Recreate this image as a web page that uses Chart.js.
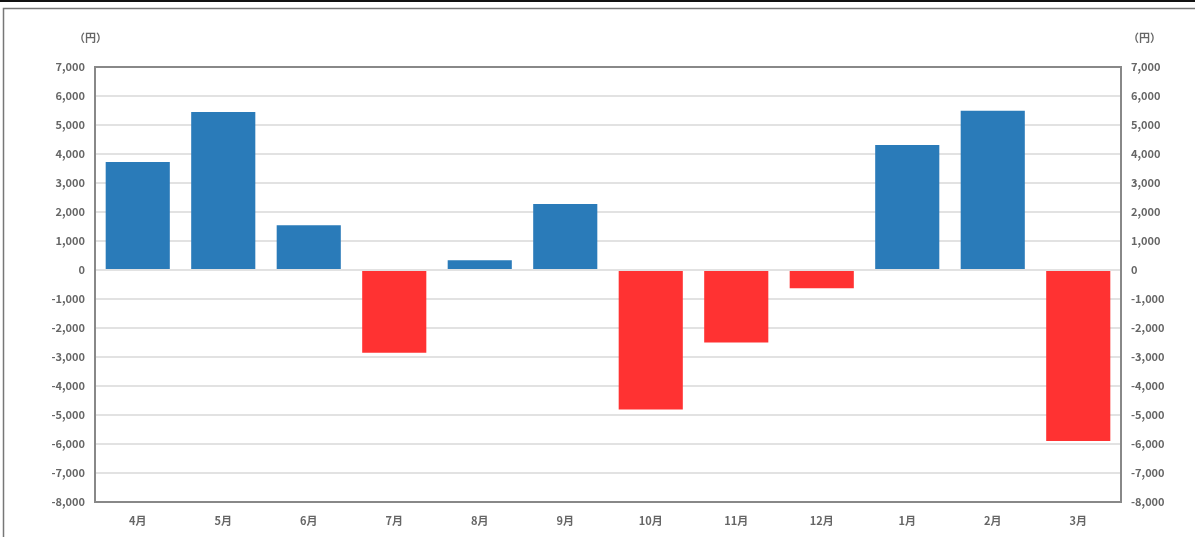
<!DOCTYPE html>
<html>
<head>
<meta charset="utf-8">
<script src="https://cdn.jsdelivr.net/npm/chart.js@4.4.1/dist/chart.umd.min.js"></script>
<style>
html,body{margin:0;padding:0;background:#fff;}
#wrap{position:relative;width:1195px;height:537px;}
</style>
</head>
<body>
<div id="wrap"><canvas id="c" width="1195" height="537"></canvas></div>
<script>
const categories = ["4月","5月","6月","7月","8月","9月","10月","11月","12月","1月","2月","3月"];
const values = [3720, 5450, 1540, -2850, 340, 2280, -4810, -2500, -630, 4310, 5490, -5900];
const yMin = -8000;
const yMax = 7000;
const yStep = 1000;
const unitLabel = "（円）";

const BLUE = "#2a7bb9";
const RED = "#ff3232";
const TICK_COLOR = "#666";
const FONT = "'Noto Sans CJK JP', 'DejaVu Sans', sans-serif";

function fmt(v){ return v.toLocaleString('en-US'); }

const framePlugin = {
  id: 'frame',
  beforeDraw(chart){
    const ctx = chart.ctx;
    ctx.save();
    ctx.fillStyle = '#fff';
    ctx.fillRect(0,0,chart.width,chart.height);
    ctx.fillStyle = '#111';
    ctx.fillRect(0,0,chart.width,2);
    ctx.strokeStyle = '#777';
    ctx.lineWidth = 1.5;
    ctx.beginPath();
    ctx.moveTo(3.5, chart.height);
    ctx.lineTo(3.5, 8.5);
    ctx.lineTo(chart.width, 8.5);
    ctx.stroke();
    ctx.restore();
  },
  afterDraw(chart){
    const ctx = chart.ctx;
    const a = chart.chartArea;
    ctx.save();
    ctx.strokeStyle = '#888';
    ctx.lineWidth = 2;
    ctx.beginPath();
    ctx.moveTo(a.left, a.top);
    ctx.lineTo(a.right, a.top);
    ctx.stroke();
    ctx.fillStyle = TICK_COLOR;
    ctx.font = "bold 11px " + FONT;
    ctx.textBaseline = 'middle';
    ctx.textAlign = 'left';
    ctx.fillText(unitLabel, 74, 38);
    ctx.fillText(unitLabel, 1128, 38);
    ctx.restore();
  }
};

new Chart(document.getElementById('c'), {
  type: 'bar',
  data: {
    labels: categories,
    datasets: [{
      data: values,
      backgroundColor: values.map(v => v >= 0 ? BLUE : RED),
      borderWidth: 0,
      barPercentage: 0.75,
      categoryPercentage: 1.0
    }]
  },
  options: {
    responsive: false,
    animation: false,
    devicePixelRatio: 1,
    layout: { padding: { top: 67, left: 0, right: 0, bottom: 0 } },
    plugins: { legend: { display: false }, tooltip: { enabled: false } },
    scales: {
      x: {
        grid: { display: false, drawTicks: false },
        border: { color: '#888', width: 2 },
        ticks: { color: TICK_COLOR, font: { size: 11, weight: 'bold', family: FONT }, padding: 12, maxRotation: 0 },
        afterFit(s){ s.height = 35; }
      },
      y: {
        position: 'left',
        min: yMin, max: yMax,
        grid: { color: '#e2e2e2', lineWidth: 2, drawTicks: false },
        border: { color: '#888', width: 2 },
        ticks: { stepSize: yStep, color: TICK_COLOR, font: { size: 11, weight: 'bold', family: FONT }, padding: 10, callback: v => fmt(v) },
        afterFit(s){ s.width = 95; }
      },
      y2: {
        position: 'right',
        min: yMin, max: yMax,
        grid: { display: false, drawTicks: false },
        border: { color: '#888', width: 2 },
        ticks: { stepSize: yStep, color: TICK_COLOR, font: { size: 11, weight: 'bold', family: FONT }, padding: 10, callback: v => fmt(v) },
        afterFit(s){ s.width = 74; }
      }
    }
  },
  plugins: [framePlugin]
});
</script>
</body>
</html>
